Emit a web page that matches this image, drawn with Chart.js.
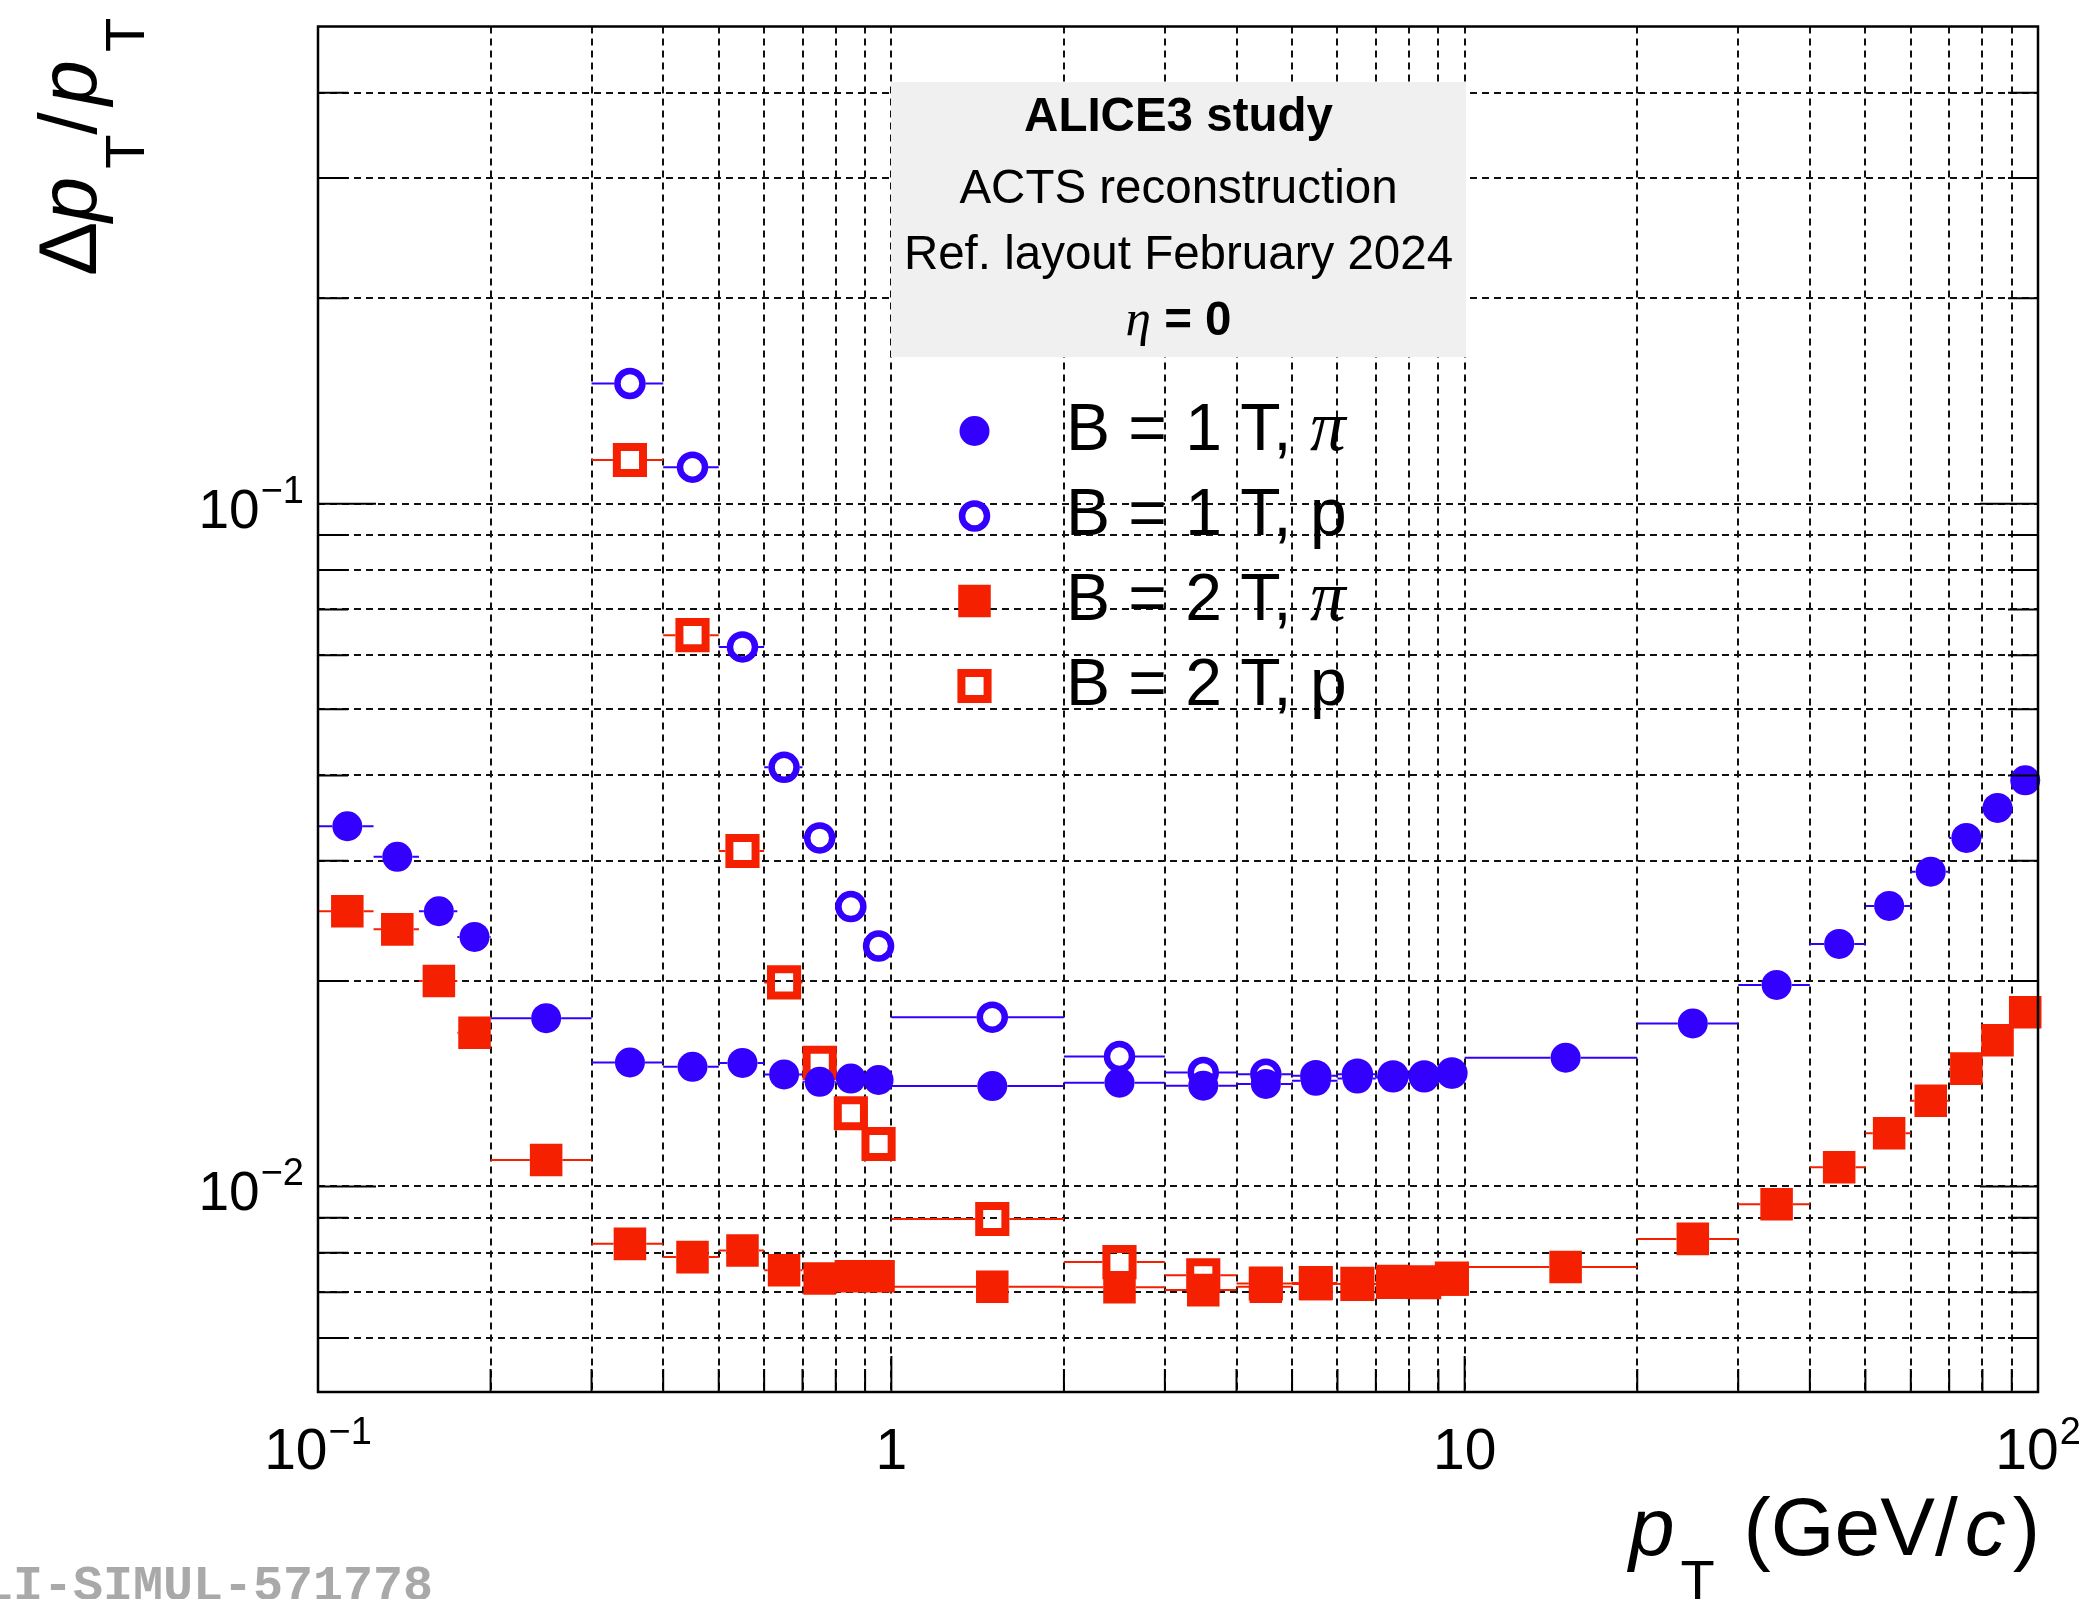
<!DOCTYPE html>
<html>
<head>
<meta charset="utf-8">
<script src="https://cdn.jsdelivr.net/npm/chart.js@4.4.1/dist/chart.umd.min.js"></script>
<style>
  html, body { margin: 0; padding: 0; background: #fff; }
</style>
</head>
<body>
<canvas id="c" width="2081" height="1599"></canvas>
<script>
// pT bins (GeV/c)
const binEdges = [0.1, 0.125, 0.15, 0.175, 0.2, 0.3, 0.4, 0.5, 0.6, 0.7, 0.8, 0.9, 1,
                  2, 3, 4, 5, 6, 7, 8, 9, 10, 20, 30, 40, 50, 60, 70, 80, 90, 100];
const ptCenters = [0.1125, 0.1375, 0.1625, 0.1875, 0.25, 0.35, 0.45, 0.55, 0.65, 0.75, 0.85, 0.95,
                   1.5, 2.5, 3.5, 4.5, 5.5, 6.5, 7.5, 8.5, 9.5, 15, 25, 35, 45, 55, 65, 75, 85, 95];

// relative pT resolution per bin
const resB1Pi = [0.0337, 0.0304, 0.0253, 0.0232, 0.01764, 0.01519, 0.01497, 0.01517, 0.01459, 0.01423, 0.01439, 0.01432,
                 0.01403, 0.01419, 0.01405, 0.01413, 0.01428, 0.01439, 0.01444, 0.01444, 0.01464, 0.01544, 0.01733,
                 0.01973, 0.02266, 0.02576, 0.02891, 0.0324, 0.03584, 0.03935];
const resB1P  = [null, null, null, null, null, 0.150, 0.1131, 0.0617, 0.0411, 0.0324, 0.0257, 0.0225,
                 0.0177, 0.0155, 0.01469, 0.0146, 0.01453, 0.0146, 0.01452, 0.01452, 0.01466, null, null,
                 null, null, null, null, null, null, null];
const resB2Pi = [0.0253, 0.0238, 0.0200, 0.0168, 0.01093, 0.00824, 0.00788, 0.00806, 0.00754, 0.00733, 0.00739, 0.00739,
                 0.00713, 0.00712, 0.00705, 0.00713, 0.0072, 0.0072, 0.00723, 0.00723, 0.00731, 0.00762, 0.00838,
                 0.00942, 0.01067, 0.01197, 0.01335, 0.01488, 0.01637, 0.01799];
const resB2P  = [null, null, null, null, null, 0.1159, 0.0642, 0.0310, 0.0199, 0.01517, 0.0128, 0.01154,
                 0.00896, 0.00775, 0.00741, 0.00721, 0.00722, 0.0072, 0.00725, 0.00724, 0.00733, null, null,
                 null, null, null, null, null, null, null];

const seriesNames = ['B = 1 T, π', 'B = 1 T, p', 'B = 2 T, π', 'B = 2 T, p'];
const headerLines = ['ALICE3 study', 'ACTS reconstruction', 'Ref. layout February 2024', 'η = 0'];
const headerBold = [true, false, false, true];

// axis ticks
const xGridValues = [0.2, 0.3, 0.4, 0.5, 0.6, 0.7, 0.8, 0.9, 1, 2, 3, 4, 5, 6, 7, 8, 9, 10, 20, 30, 40, 50, 60, 70, 80, 90];
const yGridValues = [0.006, 0.007, 0.008, 0.009, 0.01, 0.02, 0.03, 0.04, 0.05, 0.06, 0.07, 0.08, 0.09, 0.1, 0.2, 0.3, 0.4];
const xLabelValues = [0.1, 1, 10, 100];
const xLabelTexts = ['10^\u22121', '1', '10', '10^2'];
const yLabelValues = [0.1, 0.01];
const yLabelTexts = ['10^\u22121', '10^\u22122'];

const BLUE = '#3300ff';
const RED = '#f42000';
const SANS = '"Liberation Sans", Arial, sans-serif';
const SERIF = '"Liberation Serif", serif';

const markerStyles = [
  { style: 'circle', radius: 15, fill: true, width: 0, color: BLUE, gap: 15 },
  { style: 'circle', radius: 12.5, fill: false, width: 6.5, color: BLUE, gap: 15.5 },
  { style: 'rect', radius: 23, fill: true, width: 0, color: RED, gap: 16.3 },
  { style: 'rect', radius: 18.5, fill: false, width: 8, color: RED, gap: 17 }
];
const seriesValues = [resB1Pi, resB1P, resB2Pi, resB2P];

const datasets = seriesValues.map((vals, k) => {
  const m = markerStyles[k];
  const data = [];
  vals.forEach((v, i) => {
    if (v !== null) data.push({ x: ptCenters[i], y: v, lo: binEdges[i], hi: binEdges[i + 1] });
  });
  return {
    label: seriesNames[k],
    data: data,
    showLine: false,
    pointStyle: m.style,
    pointRadius: m.radius,
    pointHoverRadius: m.radius,
    pointBorderWidth: m.width,
    pointBackgroundColor: m.fill ? m.color : 'rgba(0,0,0,0)',
    pointBorderColor: m.color,
    borderColor: m.color,
    order: k,
    clip: false
  };
});

function isDecade(v) {
  const l = Math.log10(v);
  return Math.abs(l - Math.round(l)) < 1e-9;
}

// split text so greek letters come out italic like ROOT's symbol font
function greekRuns(text, size, weight) {
  const runs = [];
  let cur = '';
  for (const ch of text) {
    if (/[\u0370-\u03ff]/.test(ch)) {
      if (cur) { runs.push([cur, weight + size + 'px ' + SANS, 0, 0]); cur = ''; }
      runs.push([ch, 'italic ' + (size * 1.08) + 'px ' + SERIF, 0, 0]);
    } else cur += ch;
  }
  if (cur) runs.push([cur, weight + size + 'px ' + SANS, 0, 0]);
  return runs;
}

function powRuns(txt, size) {
  const parts = txt.split('^');
  const runs = [[parts[0], size + 'px ' + SANS, 0, 0]];
  if (parts[1]) runs.push([parts[1], '38px ' + SANS, -25, 1]);
  return runs;
}

function runsWidth(ctx, runs) {
  let w = 0;
  runs.forEach(r => { ctx.font = r[1]; w += (r[3] || 0) + ctx.measureText(r[0]).width; });
  return w;
}

function drawRuns(ctx, runs, x, y) {
  let cx = x;
  runs.forEach(r => {
    cx += r[3] || 0;
    ctx.font = r[1];
    ctx.fillText(r[0], cx, y + (r[2] || 0));
    cx += ctx.measureText(r[0]).width;
  });
  return cx;
}

function drawMarker(ctx, m, x, y) {
  ctx.save();
  ctx.fillStyle = m.color;
  ctx.strokeStyle = m.color;
  ctx.lineWidth = m.width;
  ctx.beginPath();
  if (m.style === 'circle') {
    ctx.arc(x, y, m.radius, 0, Math.PI * 2);
  } else {
    const s = Math.SQRT1_2 * m.radius;
    ctx.rect(x - s, y - s, 2 * s, 2 * s);
  }
  if (m.fill) ctx.fill();
  if (m.width > 0) ctx.stroke();
  ctx.restore();
}

const rootDecor = {
  id: 'rootDecor',
  beforeDatasetsDraw(chart) {
    const ctx = chart.ctx;
    const xs = chart.scales.x;
    ctx.save();
    ctx.setLineDash([]);

    // header box
    ctx.fillStyle = '#f0f0f0';
    ctx.fillRect(891, 82, 575, 275);
    ctx.fillStyle = '#000';
    ctx.textAlign = 'left';
    ctx.textBaseline = 'alphabetic';
    const baselines = [131, 203, 269, 335];
    headerLines.forEach((t, i) => {
      const runs = greekRuns(t, 47.5, headerBold[i] ? 'bold ' : '');
      const w = runsWidth(ctx, runs);
      drawRuns(ctx, runs, 1178.5 - w / 2, baselines[i]);
    });

    // horizontal error bars (bin widths)
    chart.data.datasets.forEach((ds, di) => {
      const meta = chart.getDatasetMeta(di);
      const m = markerStyles[di];
      ctx.strokeStyle = m.color;
      ctx.lineWidth = 2;
      meta.data.forEach((el, i) => {
        const raw = ds.data[i];
        const x0 = xs.getPixelForValue(raw.lo);
        const x1 = xs.getPixelForValue(raw.hi);
        ctx.beginPath();
        if (el.x - m.gap > x0) { ctx.moveTo(x0, el.y); ctx.lineTo(el.x - m.gap, el.y); }
        if (el.x + m.gap < x1) { ctx.moveTo(el.x + m.gap, el.y); ctx.lineTo(x1, el.y); }
        ctx.stroke();
      });
    });
    ctx.restore();
  },
  afterDatasetsDraw(chart) {
    const ctx = chart.ctx;
    const a = chart.chartArea;
    const xs = chart.scales.x;
    const ys = chart.scales.y;
    ctx.save();
    ctx.setLineDash([]);
    ctx.strokeStyle = '#000';

    // frame
    ctx.lineWidth = 2.5;
    ctx.strokeRect(a.left, a.top, a.right - a.left, a.bottom - a.top);

    // inner ticks
    ctx.lineWidth = 2;
    ctx.beginPath();
    yGridValues.forEach(v => {
      const py = ys.getPixelForValue(v);
      const L = isDecade(v) ? 58 : 30;
      ctx.moveTo(a.left, py); ctx.lineTo(a.left + L, py);
      ctx.moveTo(a.right, py); ctx.lineTo(a.right - L, py);
    });
    xGridValues.forEach(v => {
      const px = xs.getPixelForValue(v);
      const L = isDecade(v) ? 36 : 23;
      ctx.moveTo(px, a.bottom); ctx.lineTo(px, a.bottom - L);
    });
    ctx.stroke();

    // tick labels
    ctx.fillStyle = '#000';
    ctx.textAlign = 'left';
    ctx.textBaseline = 'alphabetic';
    xLabelValues.forEach((v, i) => {
      const runs = powRuns(xLabelTexts[i], 57);
      const w = runsWidth(ctx, runs);
      drawRuns(ctx, runs, xs.getPixelForValue(v) - w / 2, a.bottom + 77);
    });
    yLabelValues.forEach((v, i) => {
      const runs = powRuns(yLabelTexts[i], 55);
      const w = runsWidth(ctx, runs);
      drawRuns(ctx, runs, a.left - 14 - w, ys.getPixelForValue(v) + 24);
    });

    // x title
    const big = 82, sub = 56;
    drawRuns(ctx, [
      ['p', 'italic ' + big + 'px ' + SANS, 0, 0],
      ['T', sub + 'px ' + SANS, 44, 6]
    ], 1629, 1555);
    const xt = [
      ['(GeV/', big + 'px ' + SANS, 0, 0],
      ['c', 'italic ' + big + 'px ' + SANS, 0, 7],
      [')', big + 'px ' + SANS, 0, 7]
    ];
    drawRuns(ctx, xt, 2040 - runsWidth(ctx, xt), 1555);

    // y title (rotated)
    ctx.save();
    ctx.translate(96, 276);
    ctx.rotate(-Math.PI / 2);
    drawRuns(ctx, [
      ['\u0394', '81px ' + SANS, 0, 0],
      ['p', 'italic 81px ' + SANS, 0, 0],
      ['T', sub + 'px ' + SANS, 48, 8],
      ['/', '81px ' + SANS, 0, 0],
      ['p', 'italic 81px ' + SANS, 0, 7],
      ['T', sub + 'px ' + SANS, 48, 8]
    ], 0, 0);
    ctx.restore();

    // legend
    const rowY = [431, 516, 601, 686];
    seriesNames.forEach((name, k) => {
      drawMarker(ctx, markerStyles[k], 974.5, rowY[k]);
      ctx.fillStyle = '#000';
      drawRuns(ctx, greekRuns(name, 66, ''), 1066, rowY[k] + 19);
    });

    // figure id
    ctx.fillStyle = '#a9a9a9';
    ctx.font = 'bold 50px "Liberation Mono", monospace';
    ctx.textAlign = 'right';
    ctx.fillText('ALI-SIMUL-571778', 433, 1600);
    ctx.restore();
  }
};

new Chart(document.getElementById('c'), {
  type: 'scatter',
  data: { datasets: datasets },
  options: {
    responsive: false,
    animation: false,
    events: [],
    layout: { padding: { left: 318, top: 16, right: 43, bottom: 207 } },
    plugins: { legend: { display: false }, tooltip: { enabled: false } },
    scales: {
      x: {
        type: 'logarithmic',
        min: 0.1,
        max: 100,
        afterFit: s => { s.height = 0; },
        afterBuildTicks: s => { s.ticks = xGridValues.map(v => ({ value: v })); },
        ticks: { display: false },
        grid: { color: '#111', lineWidth: 2, drawTicks: false },
        border: { display: false, dash: [7, 5] }
      },
      y: {
        type: 'logarithmic',
        min: 0.005,
        max: 0.5,
        afterFit: s => { s.width = 0; },
        afterBuildTicks: s => { s.ticks = yGridValues.map(v => ({ value: v })); },
        ticks: { display: false },
        grid: { color: '#111', lineWidth: 2, drawTicks: false },
        border: { display: false, dash: [7, 5] }
      }
    }
  },
  plugins: [rootDecor]
});
</script>
</body>
</html>
